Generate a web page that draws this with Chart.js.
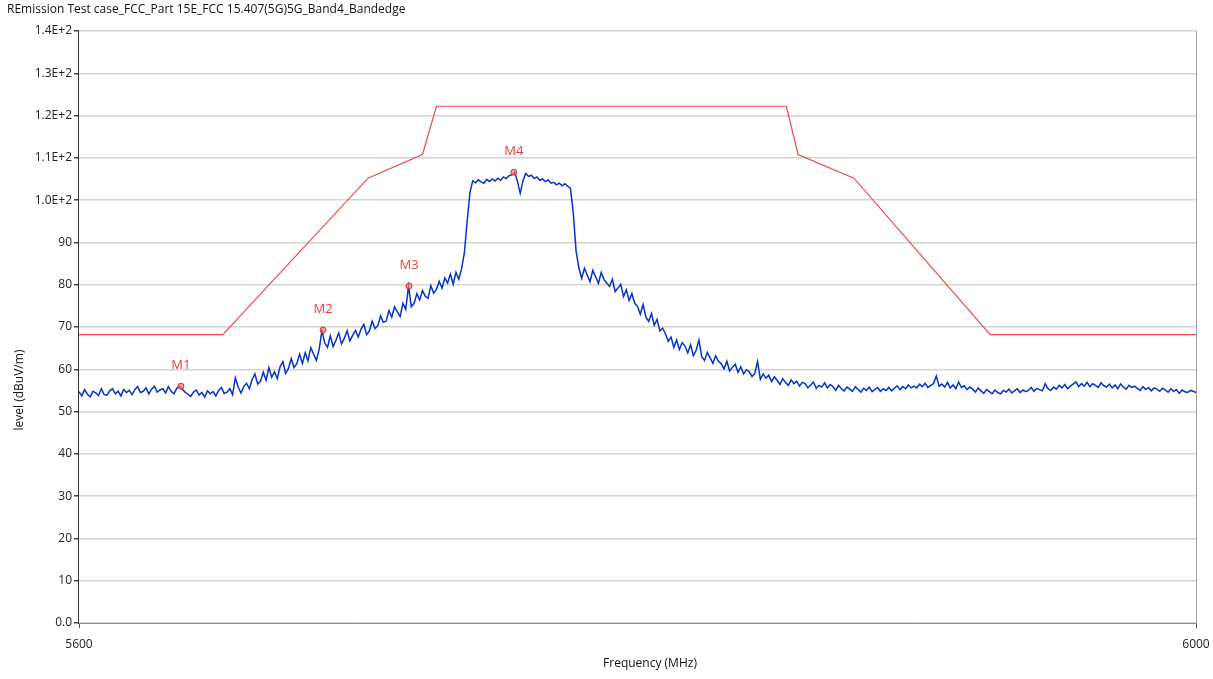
<!DOCTYPE html>
<html>
<head>
<meta charset="utf-8">
<script src="https://cdn.jsdelivr.net/npm/chart.js@4.4.1/dist/chart.umd.min.js"></script>
<style>
  html, body { margin: 0; padding: 0; background: #fff; }
  #wrap { position: relative; width: 1213px; height: 679px; }
</style>
</head>
<body>
<div id="wrap"><canvas id="chart"></canvas></div>
<script>
// Chart text
const chartTitle = 'REmission Test case_FCC_Part 15E_FCC 15.407(5G)5G_Band4_Bandedge';
const xTitle = 'Frequency (MHz)';
const yTitle = 'level (dBuV/m)';
const xTicks = [5600, 6000];

// Limit line (band edge mask, corners)
const limitFreqs = [5600, 5651.5, 5703.5, 5723, 5728, 5853.3, 5857.5, 5877.5, 5926.3, 6000];
const limitLevels = [68.2, 68.2, 105.2, 110.8, 122.2, 122.2, 110.8, 105.2, 68.2, 68.2];

// Measured trace, one reading per MHz from 5600 MHz
const traceStartMHz = 5600;
const traceStepMHz = 1;
const traceLevels = [
  54.7, 53.7, 55.2, 54.1, 53.5, 54.8, 54.4, 53.8, 55.4, 54.0,
  53.9, 54.9, 55.4, 54.2, 54.8, 53.7, 55.2, 54.5, 55.0, 54.0,
  55.2, 55.9, 54.5, 54.8, 55.6, 54.2, 55.3, 56.0, 54.6, 55.1,
  55.4, 54.4, 55.9, 54.8, 54.2, 55.5, 56.0, 55.3, 54.6, 54.1,
  53.6, 54.6, 55.1, 53.9, 54.5, 53.4, 54.9, 54.2, 54.7, 53.7,
  55.0, 55.7, 54.3, 54.6, 55.4, 54.0, 58.0, 55.8, 54.4, 55.9,
  56.7, 55.4, 57.6, 58.9, 56.5, 57.2, 59.3, 57.4, 60.4, 58.1,
  59.4, 57.8, 60.6, 61.8, 59.0, 60.2, 62.5, 60.4, 61.3, 63.6,
  61.4, 63.9, 62.0, 65.1, 63.6, 62.1, 64.7, 69.2, 66.2, 65.2,
  67.9, 65.4, 66.8, 68.6, 66.0, 67.3, 69.1, 66.7, 68.0, 69.2,
  67.6, 69.5, 70.6, 68.2, 69.1, 71.4, 69.6, 70.3, 72.6, 71.1,
  71.4, 73.9, 72.3, 74.8, 73.6, 72.5, 75.6, 74.2, 79.6, 74.8,
  75.6, 77.9, 76.4, 78.6, 77.3, 76.8, 79.8, 78.0, 78.9, 80.8,
  79.2, 81.6, 80.4, 82.5, 80.1, 82.9, 81.3, 83.8, 87.5, 95.0,
  101.8, 104.6, 104.1, 104.8, 104.3, 104.0, 104.9, 104.4, 105.0, 104.5,
  105.2, 104.7, 105.5, 105.1, 105.8, 106.0, 106.6, 104.5, 101.6, 104.6,
  106.3, 105.6, 105.9, 105.1, 105.5, 104.7, 105.0, 104.4, 104.8, 104.0,
  104.2, 103.6, 104.0, 103.4, 103.9, 103.3, 102.8, 97.0, 88.0, 84.0,
  81.5, 83.9, 82.3, 80.7, 83.4, 81.9, 80.3, 82.9, 81.2, 80.4,
  79.6, 81.3, 78.4, 79.2, 80.1, 77.2, 78.8, 76.3, 77.9, 75.6,
  74.9, 73.0, 75.3, 72.4, 71.3, 73.2, 70.4, 71.8, 69.1, 69.7,
  68.4, 66.6, 67.6, 65.2, 66.9, 64.7, 66.3, 65.5, 63.9, 65.8,
  63.2, 64.5, 66.9, 63.0, 62.1, 64.0, 62.7, 61.4, 63.2, 61.9,
  61.3, 60.1, 61.9, 59.6, 60.5, 61.2, 59.3, 60.6, 58.9, 59.9,
  59.4, 58.3, 59.0, 61.8, 57.6, 58.9, 57.9, 58.6, 57.1, 58.2,
  57.4, 56.4, 57.8, 56.9, 56.2, 57.5, 56.6, 57.2, 56.0, 56.9,
  56.6, 55.6, 56.3, 57.0, 55.5, 56.2, 55.8, 56.8, 55.6, 56.4,
  55.9, 55.0, 56.2, 55.4, 54.9, 55.8, 55.3, 54.8, 55.9, 55.2,
  54.6, 55.5, 55.0, 55.8, 54.7, 55.2, 55.7, 54.8, 55.4, 55.0,
  55.7, 54.9, 55.5, 56.1, 55.2, 55.9, 55.4, 56.3, 55.6, 56.0,
  55.6, 56.5, 55.9, 56.7, 55.7, 56.2, 56.6, 58.4, 56.0, 56.5,
  55.8, 56.9, 55.6, 56.3, 55.4, 57.0, 55.7, 56.1, 55.2, 55.8,
  55.3, 54.6, 55.6, 54.9, 54.3, 55.2, 54.7, 54.2, 55.1, 54.5,
  54.2, 55.0, 54.6, 55.3, 54.4, 54.9, 55.4, 54.5, 55.1, 54.7,
  55.0, 55.7, 54.8, 55.5, 55.2, 54.9, 56.6, 55.4, 55.0, 55.8,
  55.3, 56.2, 55.6, 56.4, 55.4, 56.0, 56.5, 57.0, 55.9, 56.6,
  56.0, 56.9, 55.9, 56.6, 56.2, 55.7, 56.8, 56.1, 55.8, 56.5,
  55.6, 56.3, 55.4, 56.5, 55.8, 55.3, 56.2, 55.7, 56.0, 55.5,
  55.0, 55.9, 55.2, 55.7, 54.9, 55.6, 55.3, 54.8, 55.5, 55.1,
  54.6, 55.4, 54.8, 55.2, 54.3, 55.1, 54.7, 54.5, 55.0, 54.8,
  54.5
];

// Markers
const markerNames = ['M1', 'M2', 'M3', 'M4'];
const markerFreqs = [5636.5, 5687.4, 5718.2, 5755.7];
const markerLevels = [56.0, 69.3, 79.7, 106.6];

const FONT = "'Open Sans', 'DejaVu Sans', sans-serif";

const traceData = traceLevels.map((v, i) => ({ x: traceStartMHz + i * traceStepMHz, y: v }));
const limitData = limitFreqs.map((f, i) => ({ x: f, y: limitLevels[i] }));
const markerData = markerFreqs.map((f, i) => ({ x: f, y: markerLevels[i] }));

// title, axis titles, marker names, plot frame
const decorPlugin = {
    id: 'decor',
    afterDraw(chart) {
        const ctx = chart.ctx;
        const area = chart.chartArea;
        ctx.save();
        ctx.font = '12px ' + FONT;
        ctx.fillStyle = '#111';
        ctx.textBaseline = 'middle';
        ctx.textAlign = 'left';
        ctx.fillText(chartTitle, 7, 10);

        ctx.textAlign = 'center';
        ctx.fillText(xTitle, 650, 664);

        ctx.save();
        ctx.translate(20, 390);
        ctx.rotate(-Math.PI / 2);
        ctx.fillText(yTitle, 0, 0);
        ctx.restore();

        // frame
        ctx.lineWidth = 1;
        ctx.strokeStyle = '#a0a0a0';
        ctx.beginPath();
        ctx.moveTo(area.right + 0.5, area.top);
        ctx.lineTo(area.right + 0.5, area.bottom);
        ctx.stroke();
        ctx.strokeStyle = '#333';
        ctx.beginPath();
        ctx.moveTo(area.left - 0.5, area.top);
        ctx.lineTo(area.left - 0.5, area.bottom + 1);
        ctx.stroke();
        ctx.restore();
    },
    afterDatasetsDraw(chart) {
        const ctx = chart.ctx;
        const meta = chart.getDatasetMeta(2);
        ctx.save();
        ctx.font = '13px ' + FONT;
        ctx.fillStyle = '#f03c3c';
        ctx.textAlign = 'center';
        ctx.textBaseline = 'middle';
        meta.data.forEach((pt, i) => {
            ctx.fillText(markerNames[i], pt.x, pt.y - 21);
        });
        ctx.restore();
    }
};

new Chart(document.getElementById('chart'), {
    type: 'line',
    data: {
        datasets: [
            {
                label: 'Trace',
                data: traceData,
                borderColor: '#0534c8',
                borderWidth: 1.5,
                pointRadius: 0,
                tension: 0,
                order: 2
            },
            {
                label: 'Limit',
                data: limitData,
                borderColor: '#f04848',
                borderWidth: 1.2,
                pointRadius: 0,
                tension: 0,
                order: 1
            },
            {
                label: 'Markers',
                data: markerData,
                showLine: false,
                pointRadius: 3,
                pointStyle: 'circle',
                pointBorderColor: '#e02828',
                pointBackgroundColor: 'rgba(255,120,120,0.7)',
                pointBorderWidth: 1,
                order: 0
            }
        ]
    },
    options: {
        responsive: true,
        maintainAspectRatio: false,
        animation: false,
        layout: { padding: { top: 31, right: 17, left: 0, bottom: 0 } },
        plugins: {
            legend: { display: false },
            tooltip: { enabled: false }
        },
        scales: {
            x: {
                type: 'linear',
                min: 5600,
                max: 6000,
                afterBuildTicks(scale) {
                    scale.ticks = xTicks.map(v => ({ value: v }));
                },
                afterFit(scale) {
                    scale.height = 56;
                    scale.paddingLeft = 0;
                    scale.paddingRight = 0;
                },
                grid: {
                    drawOnChartArea: false,
                    color: '#555',
                    tickLength: 5
                },
                border: { color: '#909090', width: 1 },
                ticks: {
                    color: '#222',
                    font: { family: FONT, size: 12 },
                    padding: 9,
                    maxRotation: 0,
                    callback: v => String(v)
                },
                title: { display: false }
            },
            y: {
                min: 0,
                max: 140,
                afterFit(scale) {
                    scale.width = 79;
                    scale.paddingTop = 0;
                    scale.paddingBottom = 0;
                },
                ticks: {
                    stepSize: 10,
                    color: '#222',
                    font: { family: FONT, size: 12 },
                    padding: 2,
                    callback: v => v >= 100 ? (v / 100).toFixed(1) + 'E+2' : (v === 0 ? '0.0' : String(v))
                },
                grid: {
                    color: '#d4d4d4',
                    lineWidth: 1.5,
                    tickColor: '#444',
                    tickLength: 5
                },
                border: { display: false },
                title: { display: false }
            }
        }
    },
    plugins: [decorPlugin]
});
</script>
</body>
</html>
